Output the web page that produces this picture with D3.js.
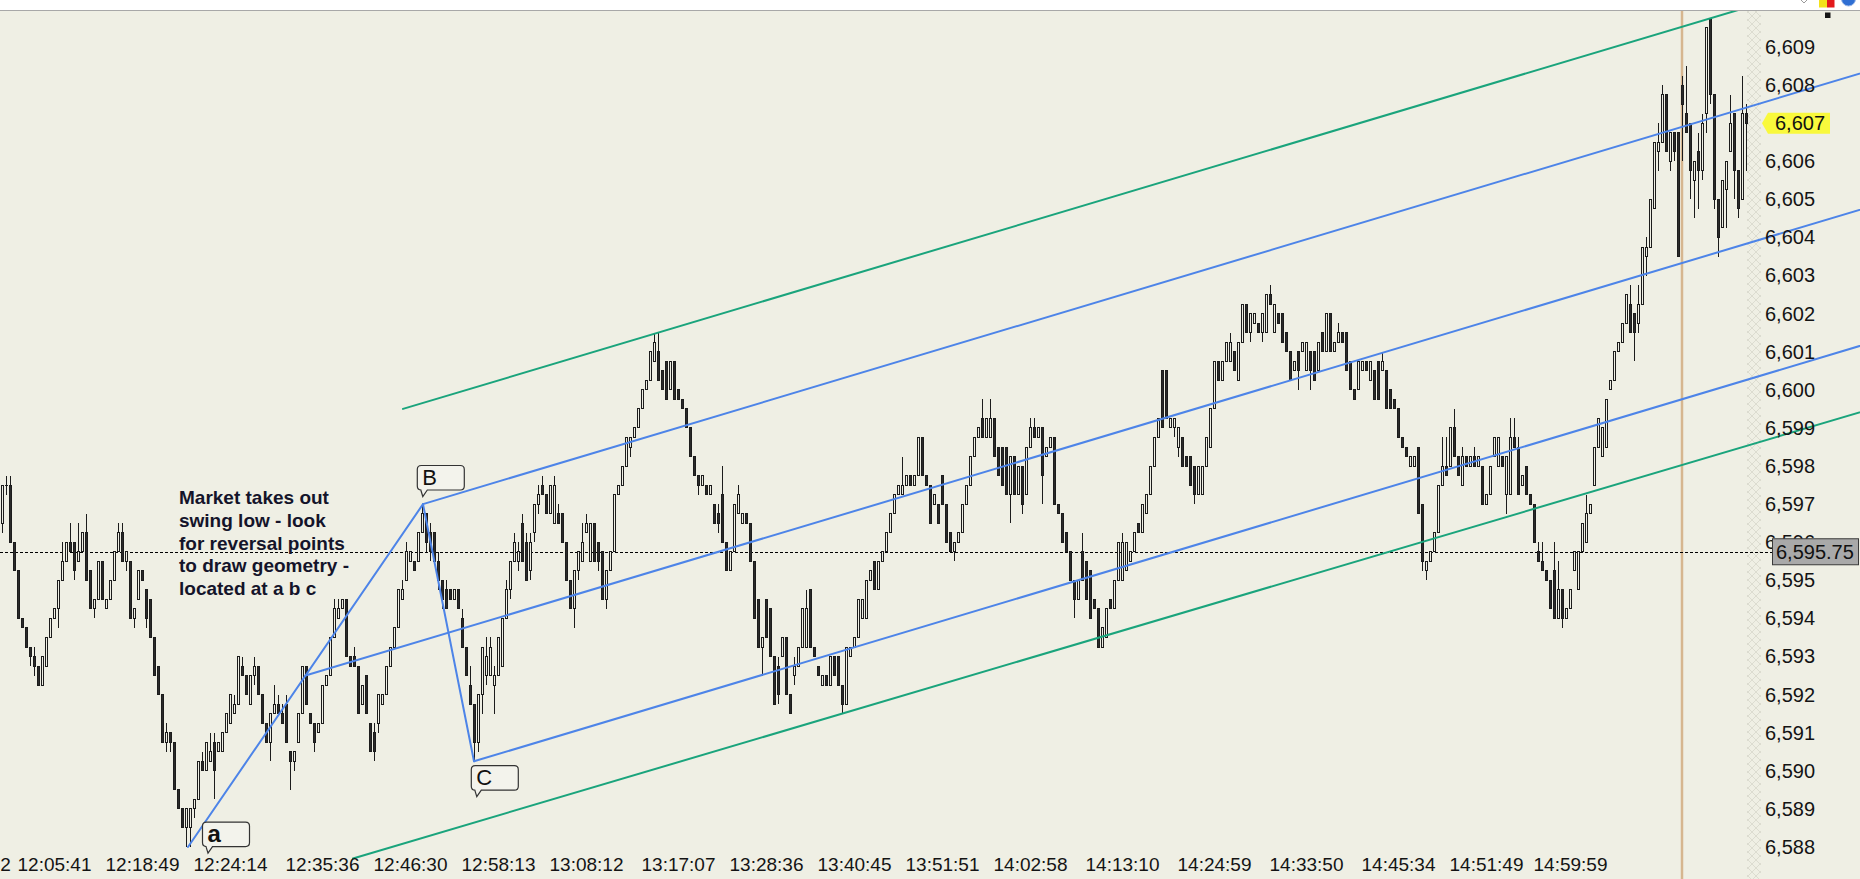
<!DOCTYPE html>
<html>
<head>
<meta charset="utf-8">
<title>ES pitchfork</title>
<script src="https://cdn.jsdelivr.net/npm/d3@7"></script>
<style>
  html, body { margin: 0; padding: 0; background: #efefe4; overflow: hidden; }
  svg { display: block; }
</style>
</head>
<body>
<div id="chart"></div>
<script>
//// DATA ////

// one candle per bar (bar 0 = left edge)
var opens = [
  // bars 0-47
  6596.5, 6597.5, 6597.5, 6596, 6595.25, 6594, 6593.75, 6593.25, 6593, 6592.75,
  6592.25, 6592.75, 6593.5, 6594, 6594.25, 6595, 6595.5, 6596, 6596, 6595.5,
  6595.75, 6596.25, 6595.25, 6594.25, 6594.5, 6595.5, 6594.25, 6594.5, 6595, 6595.75,
  6596.25, 6595.5, 6595.5, 6594, 6594.5, 6595.25, 6594.75, 6594.5, 6593.5, 6592.75,
  6592, 6590.75, 6591, 6590.75, 6589.5, 6589, 6588.5, 6588.5,
  // bars 48-105
  6589, 6589.25, 6590.25, 6590, 6590.25, 6590.75, 6590.5, 6590.5, 6591, 6591.25,
  6591.5, 6591.75, 6592.75, 6592.5, 6591.75, 6592.5, 6592.75, 6592, 6591.25, 6590.75,
  6591.5, 6591.75, 6591.5, 6591.75, 6590.5, 6590.25, 6590.75, 6591.5, 6592.75, 6591.5,
  6591.25, 6591, 6591.25, 6592.25, 6592.5, 6593.5, 6594, 6594.25, 6594.5, 6593,
  6593, 6592.75, 6591.75, 6592.5, 6591.25, 6591, 6591.25, 6591.75, 6592, 6592.75,
  6593.25, 6593.75, 6594.5, 6595, 6595.5, 6595.5, 6595.5, 6596.25,
  // bars 106-124
  6596.75, 6596.25, 6596.25, 6595.5, 6595, 6594.75, 6594.75, 6594.5, 6594.75, 6594,
  6593.25, 6592.25, 6591.75, 6590.75, 6592, 6592.5, 6592.5, 6592.25, 6592.5,
  // bars 125-294
  6592.75, 6594, 6594.75, 6595.5, 6595.5, 6596.5, 6596, 6595.25, 6596.25, 6597,
  6597.5, 6597.25, 6596.75, 6596.5, 6596.75, 6596.75, 6596, 6595, 6594.25, 6595.25,
  6595.5, 6596.25, 6595.5, 6596.5, 6596, 6595.75, 6594.5, 6595.25, 6595.75, 6597.25,
  6597.5, 6598, 6598.5, 6598.75, 6599, 6599.5, 6600, 6600.25, 6600.75, 6601,
  6600.5, 6600.75, 6600, 6600.75, 6600, 6599.75, 6599.5, 6599, 6598.25, 6597.75,
  6597.5, 6597.5, 6597.25, 6597, 6596.75, 6597.25, 6596, 6595.25, 6595.75, 6596.75,
  6596.5, 6596.75, 6596.5, 6595.5, 6594.5, 6593.25, 6594.5, 6594.25, 6593, 6592.75,
  6593, 6593.5, 6592, 6592.5, 6592.75, 6593.25, 6593.25, 6594.75, 6593.25, 6592.75,
  6592.25, 6592.5, 6592.25, 6593, 6593, 6592.25, 6591.75, 6593, 6593.25, 6593.5,
  6594, 6594, 6595, 6595.5, 6594.75, 6595.5, 6595.75, 6596.25, 6596.75, 6597.25,
  6597.25, 6597.5, 6597.75, 6597.5, 6597.75, 6598.75, 6597.75, 6597.5, 6597, 6597,
  6597.75, 6597, 6596.25, 6595.75, 6596, 6596.25, 6597, 6597.5, 6598.25, 6598.75,
  6599.25, 6598.75, 6598.75, 6599.25, 6598.5, 6598.5, 6598.5, 6597.25, 6598.25, 6597.25,
  6598, 6597.25, 6598.5, 6599, 6598.75, 6599, 6598.25, 6598.5, 6598.75, 6597,
  6596.75, 6596.25, 6595.75, 6595, 6594.5, 6595.75, 6595.5, 6595.25, 6594.5, 6594.25,
  6593.25, 6593.5, 6594.5, 6594.25, 6595, 6595, 6595.25, 6595.5, 6595.75, 6596.5,
  6596.25, 6596.75, 6597.25, 6598, 6598.75, 6600.5, 6600.5, 6599, 6599, 6598.5,
  // bars 295-409
  6598.75, 6598.25, 6598.25, 6598, 6597.25, 6597.25, 6598, 6598.5, 6599.5, 6600.75,
  6600.25, 6600.75, 6600.75, 6601, 6600.25, 6601.25, 6602.25, 6601.5, 6601.75, 6601.75,
  6601.5, 6601.5, 6602.5, 6601.5, 6602, 6602, 6601.5, 6601, 6600.5, 6601,
  6601, 6600.5, 6601, 6601, 6600.5, 6601.5, 6601, 6602, 6601, 6601.25,
  6601.5, 6601.5, 6600.75, 6600, 6600, 6600.5, 6600.75, 6600.25, 6600.5, 6600.75,
  6600.5, 6600.5, 6600, 6599.75, 6599.5, 6598.75, 6598.5, 6598, 6598, 6598.5,
  6597, 6595.25, 6595.5, 6595.75, 6596.25, 6597.5, 6598, 6598, 6599, 6598.25,
  6597.5, 6598.25, 6598, 6598.25, 6598, 6598, 6597, 6597.25, 6598.25, 6598,
  6598.25, 6597.25, 6597.25, 6598.75, 6598.5, 6597.5, 6598, 6597.25, 6597, 6595.75,
  6595.5, 6595.25, 6595, 6595.25, 6594, 6594.75, 6594, 6594.25, 6595.25, 6594.75,
  6595.75, 6596, 6596.75, 6597.5, 6598.5, 6598.25, 6598.5, 6600, 6600.25, 6601,
  6601.25, 6601.75, 6602.25, 6602, 6601.75,
  // bars 410-436
  6602.25, 6603.5, 6603.75, 6604.75, 6606.25, 6606.5, 6607.75, 6606, 6606.75, 6606.75,
  6608, 6607.25, 6607, 6605.5, 6606.25, 6605.75, 6607.25, 6609.75, 6607.75, 6605,
  6604.25, 6605.25, 6606.25, 6607.25, 6605.75, 6605, 6607.25
];

var highs = [
  // bars 0-47
  6597.5, 6597.75, 6597.75, 6596, 6595.25, 6594, 6593.75, 6593.25, 6593.25, 6592.75,
  6593, 6593.5, 6594, 6594.25, 6595, 6596, 6596, 6596.5, 6596, 6596.5,
  6596.25, 6596.75, 6595.25, 6594.5, 6595.5, 6595.5, 6594.5, 6595, 6595.75, 6596.5,
  6596.5, 6595.75, 6595.5, 6594.25, 6595.25, 6595.25, 6594.75, 6594.5, 6593.5, 6592.75,
  6592, 6591.25, 6591, 6590.75, 6589.5, 6589, 6589, 6589,
  // bars 48-105
  6589.25, 6590.25, 6590.5, 6590.75, 6591, 6591, 6590.75, 6591, 6591.5, 6592,
  6592, 6593, 6593, 6592.5, 6592.5, 6593, 6592.75, 6592, 6591.25, 6591.5,
  6592.25, 6592, 6591.75, 6592, 6590.5, 6590.5, 6591.5, 6592.75, 6592.75, 6591.5,
  6591.25, 6591.25, 6592.25, 6592.5, 6593.5, 6594.5, 6594.5, 6594.5, 6594.5, 6593,
  6593.25, 6592.75, 6592.25, 6592.5, 6591.25, 6591.25, 6592, 6592, 6592.75, 6593.25,
  6593.75, 6594.75, 6595, 6596, 6595.75, 6595.5, 6596.25, 6597,
  // bars 106-124
  6596.75, 6596.5, 6596.25, 6595.75, 6595, 6595, 6594.75, 6594.75, 6594.75, 6594.25,
  6593.25, 6592.75, 6591.75, 6592, 6593.25, 6593.5, 6593.5, 6592.75, 6593.5,
  // bars 125-294
  6594, 6595, 6595.5, 6596.25, 6596, 6596.75, 6596.25, 6596.25, 6597, 6597.5,
  6597.75, 6597.25, 6597.5, 6597.75, 6597, 6596.75, 6596, 6595, 6595.25, 6595.75,
  6596.5, 6596.75, 6596.5, 6596.5, 6596, 6595.75, 6595.25, 6595.75, 6597.25, 6597.5,
  6598, 6598.75, 6598.75, 6599, 6599.5, 6600, 6600.25, 6601, 6601.5, 6601.5,
  6600.5, 6600.75, 6600.75, 6600.75, 6600, 6599.75, 6599.5, 6599, 6598.25, 6597.75,
  6597.75, 6597.5, 6597.5, 6597, 6597, 6598, 6596, 6595.75, 6597, 6597.5,
  6596.75, 6596.75, 6596.5, 6595.5, 6594.5, 6593.5, 6594.5, 6594.25, 6593, 6593,
  6593.5, 6593.5, 6592, 6593, 6593.25, 6594.25, 6594.75, 6594.75, 6593.25, 6592.75,
  6592.5, 6592.5, 6593, 6593, 6593, 6592.25, 6593.25, 6593.25, 6593.5, 6594.5,
  6594.5, 6595, 6595.25, 6595.5, 6595.5, 6595.75, 6596.25, 6596.75, 6597.25, 6597.5,
  6598.25, 6597.75, 6597.75, 6597.75, 6598.75, 6598.75, 6597.75, 6597.5, 6597.25, 6597,
  6597.75, 6597, 6596.25, 6596, 6596.25, 6597, 6597.5, 6598.25, 6598.75, 6599,
  6599.75, 6599.25, 6599.75, 6599.25, 6598.5, 6598.5, 6598.5, 6598.25, 6598.25, 6598,
  6598, 6598.5, 6599.25, 6599.25, 6599, 6599, 6598.5, 6598.75, 6598.75, 6597,
  6596.75, 6596.25, 6595.75, 6595, 6595, 6596.25, 6595.5, 6595.25, 6594.5, 6594.25,
  6593.75, 6594.25, 6594.5, 6595, 6596, 6596.25, 6596, 6595.75, 6596.25, 6596.5,
  6597, 6597.25, 6598, 6598.75, 6599.25, 6600.5, 6600.5, 6599.25, 6599.25, 6599,
  // bars 295-409
  6598.75, 6598.25, 6598.25, 6598, 6598, 6598, 6598.75, 6599.5, 6600.75, 6600.75,
  6600.75, 6601.25, 6601.5, 6601, 6601.25, 6602.25, 6602.25, 6602, 6602, 6601.75,
  6602, 6602.5, 6602.75, 6602.25, 6602, 6602, 6601.5, 6601, 6600.75, 6601,
  6601.25, 6601.25, 6601, 6601, 6601.25, 6601.5, 6602, 6602, 6601.25, 6601.75,
  6601.5, 6601.5, 6600.75, 6600, 6600.75, 6600.75, 6600.75, 6600.75, 6600.5, 6600.75,
  6601, 6600.5, 6600, 6599.75, 6599.5, 6598.75, 6598.5, 6598.25, 6598.25, 6598.5,
  6597, 6595.5, 6595.75, 6596.25, 6597.5, 6598.75, 6598.75, 6599, 6599.5, 6598.25,
  6598.5, 6598.25, 6598.25, 6598.5, 6598.25, 6598, 6597.25, 6598, 6598.75, 6598.75,
  6598.25, 6598.25, 6599.25, 6599.25, 6598.75, 6597.75, 6598, 6597.25, 6597, 6596,
  6596, 6595.25, 6595, 6596, 6595.5, 6594.75, 6594.25, 6594.75, 6595.75, 6595.75,
  6596.5, 6597.25, 6597, 6598.5, 6599.25, 6599, 6599.75, 6600.25, 6601, 6601.25,
  6601.75, 6602.5, 6602.75, 6602, 6602.75,
  // bars 410-436
  6603.75, 6604, 6605, 6606.5, 6607, 6608, 6607.75, 6606.75, 6606.75, 6606.75,
  6608.25, 6608.5, 6607, 6606, 6606.75, 6607.25, 6609.5, 6609.75, 6607.75, 6605,
  6605.5, 6606, 6607.75, 6607.25, 6605.75, 6608.25, 6607.5
];

var lows = [
  // bars 0-47
  6596.25, 6597.25, 6596, 6595.25, 6594, 6593.75, 6593.25, 6592.75, 6592.5, 6592.25,
  6592.25, 6592.75, 6593.5, 6594, 6593.75, 6595, 6595.5, 6595.75, 6595, 6595.5,
  6595.75, 6595, 6594.25, 6594, 6594.5, 6594.5, 6594.25, 6594.5, 6595, 6595.75,
  6595.5, 6595.25, 6594, 6593.75, 6594.5, 6595, 6593.75, 6593.5, 6592.5, 6592,
  6590.75, 6590.5, 6590.5, 6589.5, 6589, 6588.5, 6588, 6588,
  // bars 48-105
  6588.75, 6589.25, 6590, 6590, 6590.25, 6589.25, 6590.5, 6590.5, 6591, 6591.25,
  6591.5, 6591.75, 6592.5, 6592, 6591.75, 6592.25, 6592, 6591.25, 6590.75, 6590.25,
  6591.5, 6591.5, 6591.25, 6590.75, 6589.5, 6590, 6590.75, 6591.5, 6591.75, 6591.25,
  6590.5, 6591, 6591.25, 6592.25, 6592.5, 6593.5, 6594, 6594.25, 6593, 6592.75,
  6592.75, 6591.5, 6591.75, 6591.5, 6590.5, 6590.25, 6591, 6591.75, 6592, 6592.75,
  6593.25, 6593.75, 6594.5, 6595, 6595.5, 6595.25, 6595.5, 6596.25,
  // bars 106-124
  6595.75, 6595.5, 6595.5, 6594.75, 6594.25, 6594.25, 6594.5, 6594.5, 6594.25, 6593.25,
  6592.5, 6591.75, 6590.25, 6590.5, 6591.5, 6592.25, 6592.5, 6591.5, 6592.5,
  // bars 125-294
  6592.75, 6594, 6594.5, 6595.5, 6595.25, 6595.5, 6595, 6595, 6596, 6596.75,
  6597.25, 6596.75, 6596.75, 6596.5, 6596.5, 6596, 6595, 6594.25, 6593.75, 6595,
  6595.5, 6596.25, 6595.5, 6595.5, 6595.25, 6594.5, 6594.25, 6595.25, 6595.75, 6597.25,
  6597.5, 6598, 6598.25, 6598.75, 6599, 6599.5, 6600, 6600.25, 6600.75, 6600.25,
  6600, 6599.75, 6600, 6599.75, 6599.75, 6599.5, 6599, 6598.25, 6597.75, 6597.25,
  6597.5, 6597.25, 6597.25, 6596.5, 6596.25, 6596, 6595.25, 6595.25, 6595.75, 6596.75,
  6596.5, 6596.5, 6595.5, 6594, 6593.25, 6592.5, 6593.5, 6593, 6591.75, 6591.75,
  6593, 6592, 6591.5, 6592.25, 6592.75, 6593.25, 6593.25, 6593.25, 6593, 6592.5,
  6592.25, 6592.25, 6592.25, 6592.5, 6592.25, 6591.5, 6591.75, 6593, 6593.25, 6593.5,
  6594, 6594, 6595, 6594.75, 6594.75, 6595.5, 6595.75, 6596.25, 6596.75, 6597.25,
  6597.25, 6597.5, 6597.5, 6597.5, 6597.75, 6597.75, 6597.5, 6596.5, 6597, 6596.5,
  6597, 6596, 6595.75, 6595.5, 6596, 6596.25, 6597, 6597.5, 6598.25, 6598.75,
  6598.75, 6598.75, 6598.75, 6598.25, 6597.75, 6597.5, 6597.25, 6596.5, 6597.25, 6597.25,
  6596.75, 6597.25, 6598.5, 6598.75, 6598.75, 6597, 6598.25, 6598.5, 6597, 6596.75,
  6596, 6595.75, 6595, 6594, 6594.5, 6595, 6594.5, 6594, 6594.25, 6593.25,
  6593.25, 6593.5, 6594.25, 6594.25, 6595, 6595, 6595.25, 6595.5, 6595.75, 6596.25,
  6596.25, 6596.75, 6597.25, 6598, 6598.75, 6599, 6599.25, 6599, 6598.75, 6598.25,
  // bars 295-409
  6598, 6598, 6597.5, 6597, 6597.25, 6597.25, 6598, 6598.5, 6599.5, 6600.25,
  6600.25, 6600.75, 6600.75, 6600.5, 6600.25, 6601.25, 6601.5, 6601.25, 6601.75, 6601.5,
  6601.25, 6601.5, 6602.25, 6601.5, 6601.75, 6601.25, 6601, 6600.25, 6600.5, 6600,
  6601, 6600.5, 6600, 6600.25, 6600.5, 6601, 6601, 6601, 6601, 6601.25,
  6601.25, 6600.5, 6600, 6599.75, 6600, 6600.5, 6600.5, 6600.25, 6599.75, 6599.75,
  6600.5, 6599.5, 6599.5, 6599.5, 6598.75, 6598.5, 6598.25, 6598, 6598, 6596.75,
  6595.25, 6595, 6595.5, 6595.75, 6596.25, 6597.5, 6597.75, 6598, 6598.25, 6597.75,
  6597.5, 6598, 6598, 6598, 6598, 6597, 6597, 6597.25, 6598.25, 6598,
  6598, 6596.75, 6597.25, 6598.5, 6597.25, 6597.5, 6597.25, 6597, 6596, 6595.5,
  6595.25, 6595, 6594.25, 6594, 6594, 6593.75, 6594, 6594.25, 6595.25, 6594.75,
  6595.75, 6596, 6596.75, 6597.5, 6598.5, 6598.25, 6598.5, 6600, 6600.25, 6601,
  6601.25, 6601.75, 6601.5, 6600.75, 6601.5,
  // bars 410-436
  6602.25, 6603, 6603.75, 6604.75, 6605.75, 6606.5, 6606.25, 6605.75, 6606, 6603.5,
  6606, 6606.75, 6605, 6604.5, 6604.75, 6605.5, 6606.75, 6607.5, 6604.75, 6603.5,
  6604.25, 6604.25, 6606.25, 6605, 6604.5, 6605, 6605.75
];

var closes = [
  // bars 0-47
  6597.5, 6597.5, 6596, 6595.25, 6594, 6593.75, 6593.25, 6593, 6592.75, 6592.25,
  6593, 6593.5, 6594, 6594.25, 6595, 6595.5, 6596, 6595.75, 6595.25, 6595.75,
  6596.25, 6595, 6594.25, 6594.5, 6595.5, 6594.5, 6594.5, 6595, 6595.75, 6596.25,
  6595.5, 6595.75, 6594, 6594.25, 6595.25, 6595, 6594, 6593.5, 6592.5, 6592,
  6590.75, 6591, 6590.75, 6589.5, 6589, 6588.5, 6589, 6589,
  // bars 48-105
  6589.25, 6590.25, 6590, 6590.75, 6590.5, 6590, 6590.75, 6591, 6591.5, 6592,
  6591.75, 6593, 6592.5, 6592, 6592.5, 6592.75, 6592, 6591.25, 6590.75, 6591.5,
  6591.75, 6591.5, 6591.25, 6590.75, 6590.25, 6590.5, 6591.5, 6592.75, 6591.75, 6591.25,
  6590.75, 6591.25, 6592.25, 6592.5, 6593.5, 6594.25, 6594.25, 6594.5, 6593, 6592.75,
  6592.75, 6591.5, 6592.25, 6591.5, 6590.5, 6590.5, 6592, 6592, 6592.75, 6593.25,
  6593.75, 6594.75, 6594.75, 6595.75, 6595.75, 6595.25, 6596.25, 6596.75,
  // bars 106-124
  6596, 6595.75, 6595.5, 6595, 6594.5, 6594.25, 6594.5, 6594.75, 6594.25, 6593.25,
  6592.5, 6591.75, 6590.75, 6592, 6593.25, 6593, 6593.25, 6592.5, 6593.5,
  // bars 125-294
  6594, 6594.75, 6595.5, 6596, 6595.75, 6595.5, 6595, 6596, 6597, 6597.25,
  6597.25, 6596.75, 6597.5, 6597.5, 6596.5, 6596, 6595, 6594.25, 6595.25, 6595.75,
  6596, 6596.5, 6596.5, 6595.5, 6595.5, 6594.5, 6595.25, 6595.75, 6597.25, 6597.5,
  6598, 6598.75, 6598.75, 6599, 6599.5, 6600, 6600.25, 6601, 6601.25, 6600.25,
  6600, 6599.75, 6600.75, 6599.75, 6599.75, 6599.5, 6599, 6598.25, 6597.75, 6597.5,
  6597.75, 6597.25, 6597.5, 6596.5, 6596.5, 6596, 6595.25, 6595.75, 6597, 6597.25,
  6596.75, 6596.5, 6595.5, 6594, 6593.25, 6593.5, 6593.5, 6593, 6591.75, 6592,
  6593.5, 6592, 6591.5, 6592.75, 6593.25, 6594.25, 6594.25, 6593.25, 6593, 6592.5,
  6592.5, 6592.25, 6593, 6592.5, 6592.25, 6591.75, 6593.25, 6593.25, 6593.5, 6594.5,
  6594.5, 6595, 6595.25, 6594.75, 6595.5, 6595.75, 6596.25, 6596.75, 6597.25, 6597.5,
  6597.5, 6597.75, 6597.5, 6597.75, 6598.75, 6597.75, 6597.5, 6596.5, 6597.25, 6596.5,
  6597, 6596, 6595.75, 6596, 6596.25, 6597, 6597.5, 6598.25, 6598.75, 6599,
  6598.75, 6599.25, 6599.25, 6598.25, 6597.75, 6597.5, 6597.25, 6598.25, 6597.25, 6598,
  6597, 6598.5, 6599, 6598.75, 6599, 6597.75, 6598.5, 6598.75, 6597, 6596.75,
  6596, 6595.75, 6595, 6594.5, 6595, 6595, 6594.5, 6594, 6594.25, 6593.25,
  6593.75, 6594.25, 6594.25, 6595, 6596, 6596, 6596, 6595.75, 6596.25, 6596.25,
  6597, 6597.25, 6598, 6598.75, 6599.25, 6599, 6599.25, 6599.25, 6599.25, 6599,
  // bars 295-409
  6598, 6598, 6597.5, 6597.25, 6598, 6598, 6598.75, 6599.5, 6600.75, 6600.25,
  6600.75, 6601.25, 6601.25, 6600.5, 6601.25, 6602.25, 6601.5, 6602, 6602, 6601.5,
  6602, 6602.5, 6602.25, 6602.25, 6601.75, 6601.25, 6601, 6600.25, 6600.75, 6600.5,
  6601.25, 6601.25, 6600.5, 6600.25, 6601.25, 6601, 6602, 6601, 6601.25, 6601.5,
  6601.25, 6600.5, 6600, 6599.75, 6600.75, 6600.75, 6600.5, 6600.75, 6599.75, 6599.75,
  6600.75, 6599.5, 6599.5, 6599.5, 6598.75, 6598.5, 6598.25, 6598.25, 6598.25, 6596.75,
  6595.5, 6595.5, 6595.75, 6596.25, 6597.5, 6598, 6597.75, 6599, 6598.25, 6597.75,
  6598.25, 6598, 6598.25, 6598, 6598.25, 6597, 6597.25, 6598, 6598.75, 6598.75,
  6598, 6598.25, 6598.75, 6598.5, 6597.25, 6597.75, 6597.25, 6597, 6596, 6595.5,
  6595.25, 6595, 6594.25, 6594, 6594.75, 6594, 6594.25, 6594.75, 6595.75, 6595.75,
  6596.5, 6596.75, 6597, 6598.5, 6599.25, 6599, 6599.75, 6600.25, 6601, 6601.25,
  6601.75, 6602.5, 6601.5, 6601.5, 6602.25,
  // bars 410-436
  6603.75, 6603.75, 6605, 6606.5, 6606.5, 6607.75, 6606.25, 6606.75, 6606.25, 6603.5,
  6607.5, 6606.75, 6605.75, 6606, 6605.75, 6607, 6609.5, 6607.75, 6605, 6604,
  6605.5, 6606, 6607, 6605.75, 6604.75, 6607.25, 6607
];

// time axis: bar index of each label and its text
var timeTickBars = [-7, 13, 35, 57, 80, 102, 124, 146, 169, 191, 213, 235, 257, 280, 303, 326, 349, 371, 392];
var timeTickLabels = ["11:54:52", "12:05:41", "12:18:49", "12:24:14", "12:35:36", "12:46:30", "12:58:13",
  "13:08:12", "13:17:07", "13:28:36", "13:40:45", "13:51:51", "14:02:58", "14:13:10", "14:24:59",
  "14:33:50", "14:45:34", "14:51:49", "14:59:59"];

// price axis
var priceTicks = d3.range(6588, 6610, 1);
var markerPrice = 6595.75;   // dashed horizontal line
var sessionBar = 420;        // tan vertical line

// reversal points a, B, C (bar index, price)
var pivotNames = ["a", "B", "C"];
var pivotBars = [46.5, 105.25, 118];
var pivotPrices = [6588, 6597, 6590.25];

// where each callout tail points
var calloutBars = [51.5, 105.2, 118.7];
var calloutPrices = [6587.84, 6597.2, 6589.32];

// green channel: start point, and a point it touches
var upperChannelBars = [100.25, 427];
var upperChannelPrices = [6599.5, 6609.75];
var lowerChannelBars = [87.75, 210];
var lowerChannelPrices = [6587.7, 6591.5];

// note text, first baseline anchored at bar / price
var noteLines = ["Market takes out", "swing low - look", "for reversal points", "to draw geometry -", "located at a b c"];
var noteBar = 44.25;
var notePrice = 6597;

//// SET UP ////

var svgWidth = 1860;
var svgHeight = 879;
var topBar = 10;

var bg = "#efefe4";
var ink = "#1c1c1c";
var blue = "#4d84e8";
var green = "#1aa47c";
var fontFamily = "'Liberation Sans', Arial, Helvetica, sans-serif";

var n = Math.min(opens.length, highs.length, lows.length, closes.length);
if (n !== opens.length || n !== closes.length) {
  console.log("length mismatch", opens.length, highs.length, lows.length, closes.length);
}
var lastPrice = closes[n - 1];

var svg = d3.select("#chart")
  .append("svg")
  .attr("width", svgWidth)
  .attr("height", svgHeight);

var xScale = d3.scaleLinear()
  .domain([0, n - 1])
  .range([2, 1746]);

var yScale = d3.scaleLinear()
  .domain([6588, 6609])
  .range([847, 47]);

var defs = svg.append("defs");

defs.append("clipPath")
  .attr("id", "plotClip")
  .append("rect")
  .attr("x", 0)
  .attr("y", topBar + 1)
  .attr("width", svgWidth)
  .attr("height", svgHeight - topBar - 1);

var hatch = defs.append("pattern")
  .attr("id", "hatch")
  .attr("width", 8)
  .attr("height", 8)
  .attr("patternUnits", "userSpaceOnUse");
hatch.append("path")
  .attr("d", "M0,0 L8,8 M8,0 L0,8")
  .attr("stroke", "#dcdcd0")
  .attr("stroke-width", 1);

// background + top strip
svg.append("rect")
  .attr("width", svgWidth)
  .attr("height", svgHeight)
  .attr("fill", bg);

svg.append("rect")
  .attr("width", svgWidth)
  .attr("height", topBar)
  .attr("fill", "#ffffff");

svg.append("line")
  .attr("x1", 0).attr("x2", svgWidth)
  .attr("y1", topBar + 0.5).attr("y2", topBar + 0.5)
  .attr("stroke", "#a8a8a8");

// hatched strip just right of the last bar
svg.append("rect")
  .attr("x", xScale(n - 1) + 1)
  .attr("y", topBar + 1)
  .attr("width", 14)
  .attr("height", svgHeight - topBar - 1)
  .attr("fill", "url(#hatch)");

var plot = svg.append("g")
  .attr("clip-path", "url(#plotClip)");

// session line
plot.append("line")
  .attr("x1", xScale(sessionBar)).attr("x2", xScale(sessionBar))
  .attr("y1", topBar).attr("y2", svgHeight)
  .attr("stroke", "#d6b68f")
  .attr("stroke-width", 2.5);

// dashed price marker line
plot.append("line")
  .attr("x1", 0).attr("x2", 1772)
  .attr("y1", Math.round(yScale(markerPrice)) + 0.5)
  .attr("y2", Math.round(yScale(markerPrice)) + 0.5)
  .attr("stroke", "#000")
  .attr("stroke-width", 1)
  .attr("stroke-dasharray", "3,2");

//// CANDLES ////

var barIdx = d3.range(n);

var candles = plot.append("g")
  .attr("shape-rendering", "crispEdges");

candles.selectAll("line.wick")
  .data(barIdx)
  .enter()
  .append("line")
  .attr("class", "wick")
  .attr("x1", d => Math.round(xScale(d)) + 0.5)
  .attr("x2", d => Math.round(xScale(d)) + 0.5)
  .attr("y1", d => yScale(Math.max(highs[d], opens[d], closes[d])))
  .attr("y2", d => yScale(Math.min(lows[d], opens[d], closes[d])))
  .attr("stroke", ink)
  .attr("stroke-width", 1);

candles.selectAll("rect.body")
  .data(barIdx)
  .enter()
  .append("rect")
  .attr("class", "body")
  .attr("x", d => Math.round(xScale(d)) - 0.5)
  .attr("y", d => yScale(Math.max(opens[d], closes[d])))
  .attr("width", 2)
  .attr("height", d => Math.max(0.5, Math.abs(yScale(opens[d]) - yScale(closes[d]))))
  .attr("fill", d => closes[d] >= opens[d] ? bg : "#2a2a2a")
  .attr("stroke", ink)
  .attr("stroke-width", 1);

//// PITCHFORK AND CHANNEL ////

var rightBar = xScale.invert(svgWidth + 10);

function drawLine(bar1, price1, bar2, price2, colour) {
  plot.append("line")
    .attr("x1", xScale(bar1)).attr("y1", yScale(price1))
    .attr("x2", xScale(bar2)).attr("y2", yScale(price2))
    .attr("stroke", colour)
    .attr("stroke-width", 2)
    .attr("stroke-linecap", "round");
}

// extend a ray that starts at (bar, price) with a slope in price per bar
function drawRay(bar, price, slope, colour) {
  drawLine(bar, price, rightBar, price + slope * (rightBar - bar), colour);
}

// a -> B -> C
drawLine(pivotBars[0], pivotPrices[0], pivotBars[1], pivotPrices[1], blue);
drawLine(pivotBars[1], pivotPrices[1], pivotBars[2], pivotPrices[2], blue);

// median from the middle of a-B through the middle of B-C
var m1Bar = (pivotBars[0] + pivotBars[1]) / 2;
var m1Price = (pivotPrices[0] + pivotPrices[1]) / 2;
var m2Bar = (pivotBars[1] + pivotBars[2]) / 2;
var m2Price = (pivotPrices[1] + pivotPrices[2]) / 2;
var forkSlope = (m2Price - m1Price) / (m2Bar - m1Bar);

drawRay(m1Bar, m1Price, forkSlope, blue);
drawRay(pivotBars[1], pivotPrices[1], forkSlope, blue);
drawRay(pivotBars[2], pivotPrices[2], forkSlope, blue);

// green channel lines
var upSlope = (upperChannelPrices[1] - upperChannelPrices[0]) / (upperChannelBars[1] - upperChannelBars[0]);
drawRay(upperChannelBars[0], upperChannelPrices[0], upSlope, green);
var lowSlope = (lowerChannelPrices[1] - lowerChannelPrices[0]) / (lowerChannelBars[1] - lowerChannelBars[0]);
drawRay(lowerChannelBars[0], lowerChannelPrices[0], lowSlope, green);

//// NOTE AND CALLOUTS ////

var note = svg.append("text")
  .attr("x", xScale(noteBar))
  .attr("y", yScale(notePrice))
  .attr("font-family", fontFamily)
  .attr("font-size", 19)
  .attr("font-weight", "bold")
  .attr("fill", "#14142a");

note.selectAll("tspan")
  .data(noteLines)
  .enter()
  .append("tspan")
  .attr("x", xScale(noteBar))
  .attr("dy", (d, i) => i === 0 ? 0 : 22.75)
  .text(d => d);

pivotNames.forEach(function(name, i) {
  var tipX = xScale(calloutBars[i]);
  var tipY = yScale(calloutPrices[i]);
  var left = tipX - 5.5;
  var bottom = tipY - 6.5;
  var top = bottom - 24.5;
  var right = left + 47;
  var r = 4;

  var path = [
    "M", left + r, top,
    "H", right - r,
    "Q", right, top, right, top + r,
    "V", bottom - r,
    "Q", right, bottom, right - r, bottom,
    "H", left + 10,
    "L", tipX, tipY,
    "L", left + 3.5, bottom,
    "H", left + r,
    "Q", left, bottom, left, bottom - r,
    "V", top + r,
    "Q", left, top, left + r, top,
    "Z"
  ].join(" ");

  svg.append("path")
    .attr("d", path)
    .attr("fill", "#f3f3ec")
    .attr("stroke", "#333")
    .attr("stroke-width", 1.2);

  svg.append("text")
    .attr("x", left + 5)
    .attr("y", bottom - 5)
    .attr("font-family", fontFamily)
    .attr("font-size", name === "a" ? 24 : 22)
    .attr("font-weight", name === "a" ? "bold" : "normal")
    .attr("fill", "#111")
    .text(name);
});

//// AXES ////

var bottomAxis = d3.axisBottom(xScale)
  .tickValues(timeTickBars)
  .tickFormat(function(d) { return timeTickLabels[timeTickBars.indexOf(d)]; })
  .tickSize(0)
  .tickPadding(0);

svg.append("g")
  .attr("transform", "translate(0, 857.5)")
  .call(bottomAxis)
  .call(g => g.select(".domain").remove())
  .attr("font-size", 19)
  .attr("font-family", fontFamily)
  .attr("color", "#141414");

// the tick under the last-price tag is hidden by it, so skip that one
var rightAxis = d3.axisRight(yScale)
  .tickValues(priceTicks.filter(d => d !== lastPrice))
  .tickFormat(d3.format(","))
  .tickSize(0)
  .tickPadding(0);

svg.append("g")
  .attr("transform", "translate(1765, 0)")
  .call(rightAxis)
  .call(g => g.select(".domain").remove())
  .attr("font-size", 20)
  .attr("font-family", fontFamily)
  .attr("color", "#141414");

// grey box for the dashed marker price
var markerY = yScale(markerPrice);
svg.append("rect")
  .attr("x", 1772.5)
  .attr("y", markerY - 13)
  .attr("width", 86)
  .attr("height", 26)
  .attr("fill", "#a9a9a9")
  .attr("stroke", "#3a3a3a")
  .attr("stroke-width", 1);

svg.append("text")
  .attr("x", 1776)
  .attr("y", markerY + 7)
  .attr("font-family", fontFamily)
  .attr("font-size", 20)
  .attr("fill", "#111")
  .text(d3.format(",.2f")(markerPrice));

// yellow last price tag
var lastY = yScale(lastPrice);
svg.append("path")
  .attr("d", "M1762," + lastY +
    " L1768," + (lastY - 10.5) +
    " H1830 V" + (lastY + 10.5) +
    " H1768 Z")
  .attr("fill", "#f9f93c");

svg.append("text")
  .attr("x", 1775)
  .attr("y", lastY + 7)
  .attr("font-family", fontFamily)
  .attr("font-size", 20)
  .attr("fill", "#111")
  .text(d3.format(",")(lastPrice));

//// WINDOW ICONS (top right) ////

svg.append("path")
  .attr("d", "M1801,0 L1804,3 L1807,0")
  .attr("fill", "none")
  .attr("stroke", "#9a9a9a")
  .attr("stroke-width", 1);

svg.append("rect")
  .attr("x", 1819).attr("y", 0)
  .attr("width", 8).attr("height", 7.5)
  .attr("fill", "#f3e21a");

svg.append("rect")
  .attr("x", 1827).attr("y", 0)
  .attr("width", 7.5).attr("height", 7.5)
  .attr("fill", "#e3191b");

svg.append("circle")
  .attr("cx", 1848.5).attr("cy", -1)
  .attr("r", 7)
  .attr("fill", "#2f6fd3")
  .attr("stroke", "#9bb8e8");

svg.append("rect")
  .attr("x", 1825).attr("y", 12.5)
  .attr("width", 5.5).attr("height", 5.5)
  .attr("fill", "#151515");
</script>
</body>
</html>
